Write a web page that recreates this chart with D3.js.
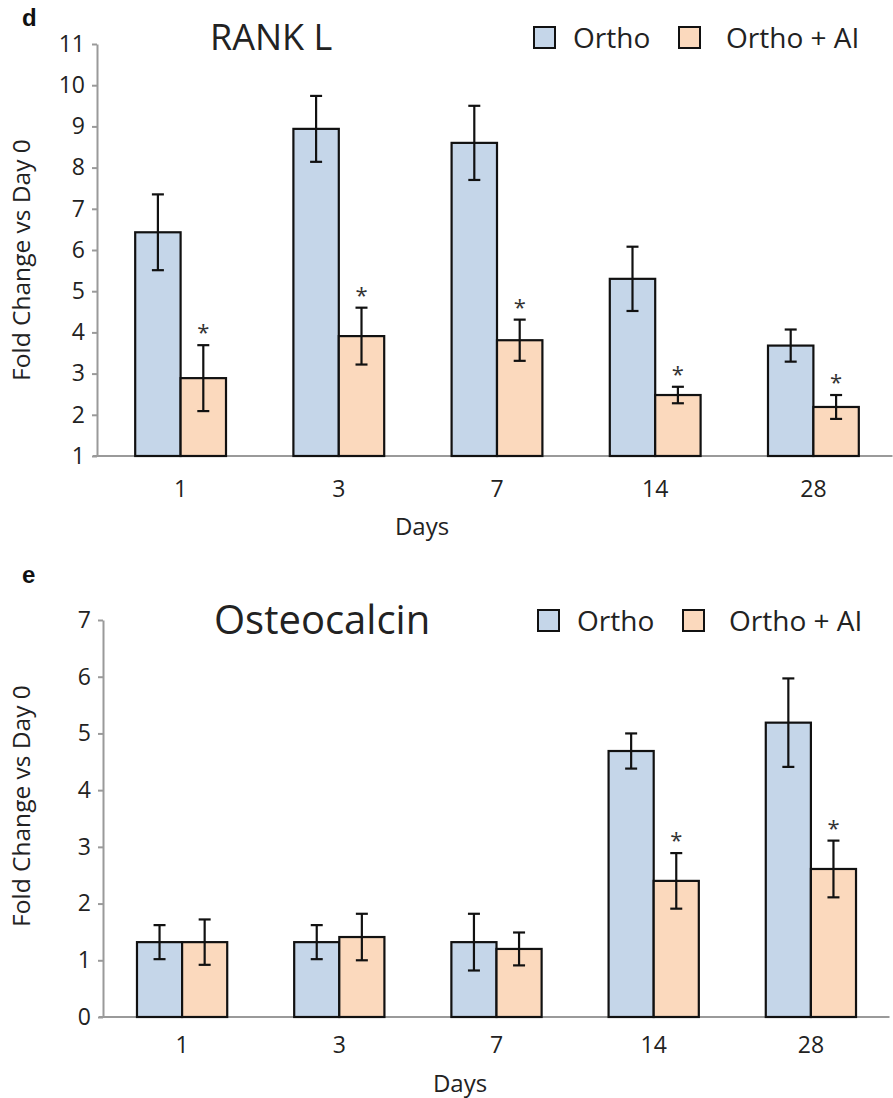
<!DOCTYPE html>
<html>
<head>
<meta charset="utf-8">
<script src="https://cdn.jsdelivr.net/npm/d3@7"></script>
<style>
  body { margin: 0; background: #fff; }
  svg { display: block; font-family: "Open Sans", sans-serif; }
  .axis path, .axis line { stroke: #9a9a9a; stroke-width: 2; }
  .axis text { fill: #222; font-size: 23px; font-family: "Open Sans", sans-serif; }
</style>
</head>
<body>
<div id="chart"></div>
<script>
// categories and series
const days = ['1', '3', '7', '14', '28'];
const seriesNames = ['Ortho', 'Ortho + AI'];
const seriesColors = ['#c5d6e9', '#fbd9bd'];

// panel d : RANK L
const rankTicks = [1, 2, 3, 4, 5, 6, 7, 8, 9, 10, 11];
const rankOrtho = [6.43, 8.94, 8.6, 5.3, 3.68];
const rankOrthoErr = [0.92, 0.8, 0.9, 0.78, 0.39];
const rankAI = [2.89, 3.91, 3.81, 2.48, 2.19];
const rankAIErr = [0.8, 0.69, 0.5, 0.2, 0.29];
const rankAISig = [true, true, true, true, true];

// panel e : Osteocalcin
const osteoTicks = [0, 1, 2, 3, 4, 5, 6, 7];
const osteoOrtho = [1.32, 1.32, 1.32, 4.69, 5.19];
const osteoOrthoErr = [0.3, 0.3, 0.5, 0.31, 0.78];
const osteoAI = [1.32, 1.41, 1.2, 2.4, 2.61];
const osteoAIErr = [0.4, 0.41, 0.29, 0.49, 0.5];
const osteoAISig = [false, false, false, true, true];

const svg = d3.select('#chart').append('svg')
  .attr('width', 893)
  .attr('height', 1098);

function drawPanel(cfg) {
  // build rows from the arrays
  const rows = days.map((d, i) => ({
    day: d,
    bars: [
      { key: seriesNames[0], value: cfg.ortho[i], err: cfg.orthoErr[i], sig: false },
      { key: seriesNames[1], value: cfg.ai[i], err: cfg.aiErr[i], sig: cfg.aiSig[i] }
    ]
  }));

  const yScale = d3.scaleLinear()
    .domain(d3.extent(cfg.ticks))
    .range([cfg.bottom, cfg.top]);

  const x0 = d3.scaleBand()
    .domain(days)
    .range([cfg.left, cfg.right])
    .padding(0);

  const x1 = d3.scaleBand()
    .domain(seriesNames)
    .range([x0.bandwidth() * 0.213, x0.bandwidth() * 0.787])
    .padding(0);

  const color = d3.scaleOrdinal().domain(seriesNames).range(seriesColors);

  const g = svg.append('g');

  // y axis
  const yAxis = d3.axisLeft(yScale)
    .tickValues(cfg.ticks)
    .tickFormat(d3.format('d'))
    .tickSize(5)
    .tickSizeOuter(0)
    .tickPadding(7);
  g.append('g')
    .attr('class', 'axis y-axis')
    .attr('transform', `translate(${cfg.axisX},0)`)
    .call(yAxis);

  // x axis (no tick marks)
  const xAxis = d3.axisBottom(x0)
    .tickSize(0)
    .tickSizeOuter(0)
    .tickPadding(cfg.xTickPad);
  const xAxisG = g.append('g')
    .attr('class', 'axis x-axis')
    .attr('transform', `translate(0,${cfg.bottom})`)
    .call(xAxis);
  xAxisG.select('.domain').attr('d', `M${cfg.axisX - 4},0H${cfg.right}`);

  // bars
  const groups = g.selectAll('.day-group')
    .data(rows)
    .join('g')
    .attr('class', 'day-group')
    .attr('transform', d => `translate(${x0(d.day)},0)`);

  groups.selectAll('rect')
    .data(d => d.bars)
    .join('rect')
    .attr('x', d => x1(d.key))
    .attr('width', x1.bandwidth())
    .attr('y', d => yScale(d.value))
    .attr('height', d => yScale(cfg.ticks[0]) - yScale(d.value))
    .attr('fill', d => color(d.key))
    .attr('stroke', '#111')
    .attr('stroke-width', 2.2);

  // error bars
  const capW = 6;
  const err = groups.selectAll('.err')
    .data(d => d.bars)
    .join('g')
    .attr('class', 'err')
    .attr('stroke', '#111')
    .attr('stroke-width', 2.2);
  err.append('line')
    .attr('x1', d => x1(d.key) + x1.bandwidth() / 2)
    .attr('x2', d => x1(d.key) + x1.bandwidth() / 2)
    .attr('y1', d => yScale(d.value + d.err))
    .attr('y2', d => yScale(d.value - d.err));
  err.append('line')
    .attr('x1', d => x1(d.key) + x1.bandwidth() / 2 - capW)
    .attr('x2', d => x1(d.key) + x1.bandwidth() / 2 + capW)
    .attr('y1', d => yScale(d.value + d.err))
    .attr('y2', d => yScale(d.value + d.err));
  err.append('line')
    .attr('x1', d => x1(d.key) + x1.bandwidth() / 2 - capW)
    .attr('x2', d => x1(d.key) + x1.bandwidth() / 2 + capW)
    .attr('y1', d => yScale(d.value - d.err))
    .attr('y2', d => yScale(d.value - d.err));

  // significance stars
  groups.selectAll('.star')
    .data(d => d.bars.filter(b => b.sig))
    .join('text')
    .attr('class', 'star')
    .attr('x', d => x1(d.key) + x1.bandwidth() / 2)
    .attr('y', d => yScale(d.value + d.err) - 5)
    .attr('text-anchor', 'middle')
    .attr('font-size', 22)
    .attr('fill', '#333')
    .text('*');

  // title
  g.append('text')
    .attr('x', cfg.titleX)
    .attr('y', cfg.titleY)
    .attr('font-size', cfg.titleSize)
    .attr('fill', '#222')
    .text(cfg.title);

  // legend
  const legend = g.selectAll('.legend')
    .data(seriesNames)
    .join('g')
    .attr('class', 'legend')
    .attr('transform', (d, i) => `translate(${cfg.legendX[i]},${cfg.legendY})`);
  legend.append('rect')
    .attr('x', 0)
    .attr('y', -21)
    .attr('width', 21)
    .attr('height', 21)
    .attr('fill', d => color(d))
    .attr('stroke', '#111')
    .attr('stroke-width', 2);
  legend.append('text')
    .attr('x', (d, i) => cfg.legendTextDx[i])
    .attr('y', 0)
    .attr('font-size', 28)
    .attr('fill', '#222')
    .text(d => d);

  // axis titles
  g.append('text')
    .attr('x', cfg.xTitleX)
    .attr('y', cfg.xTitleY)
    .attr('text-anchor', 'middle')
    .attr('font-size', 24)
    .attr('fill', '#222')
    .text('Days');

  g.append('text')
    .attr('transform', `translate(30,${cfg.yTitleY}) rotate(-90)`)
    .attr('text-anchor', 'middle')
    .attr('font-size', 24.5)
    .attr('fill', '#222')
    .text('Fold Change vs Day 0');

  // panel letter
  g.append('text')
    .attr('x', 22)
    .attr('y', cfg.letterY)
    .attr('font-family', '"Liberation Sans", Arial, sans-serif')
    .attr('font-weight', 'bold')
    .attr('font-size', 24)
    .attr('fill', '#111')
    .text(cfg.letter);
}

drawPanel({
  letter: 'd', letterY: 26,
  title: 'RANK L', titleX: 210, titleY: 50, titleSize: 36,
  ticks: rankTicks,
  ortho: rankOrtho, orthoErr: rankOrthoErr,
  ai: rankAI, aiErr: rankAIErr, aiSig: rankAISig,
  top: 44, bottom: 456, left: 101.5, right: 892.5, axisX: 97,
  xTickPad: 25,
  legendX: [534, 679], legendTextDx: [39, 47], legendY: 48,
  xTitleX: 422, xTitleY: 535, yTitleY: 260
});

drawPanel({
  letter: 'e', letterY: 583,
  title: 'Osteocalcin', titleX: 214, titleY: 634, titleSize: 40,
  ticks: osteoTicks,
  ortho: osteoOrtho, orthoErr: osteoOrthoErr,
  ai: osteoAI, aiErr: osteoAIErr, aiSig: osteoAISig,
  top: 620, bottom: 1017, left: 103.5, right: 889.5, axisX: 103,
  xTickPad: 19.5,
  legendX: [538, 683], legendTextDx: [39, 46], legendY: 631,
  xTitleX: 460, xTitleY: 1092, yTitleY: 806
});
</script>
</body>
</html>
